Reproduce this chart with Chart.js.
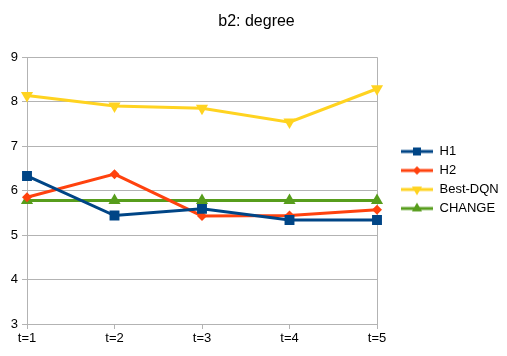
<!DOCTYPE html>
<html lang="en">
<head>
  <meta charset="UTF-8">
  <script src="https://cdn.jsdelivr.net/npm/chart.js"></script>
  <title>b2: degree</title>
  <style>
    html, body { margin: 0; padding: 0; background: #fff; }
    #wrap { width: 507px; height: 356px; }
  </style>
</head>
<body>
  <div id="wrap"><canvas id="grafico"></canvas></div>
<script>
  const rotulos = ['t=1', 't=2', 't=3', 't=4', 't=5'];
  const h1 = [6.33, 5.44, 5.59, 5.34, 5.34];
  const h2 = [5.85, 6.37, 5.43, 5.44, 5.57];
  const bestDqn = [8.14, 7.90, 7.85, 7.54, 8.29];
  const change = [5.78, 5.78, 5.78, 5.78, 5.78];
  const yTicks = [3, 4, 5, 6, 7, 8, 9];

  const grade = '#b3b3b3';

  // icone da legenda: linha + marcador
  function icone(cor, estilo, raio, rot) {
    const c = document.createElement('canvas');
    c.width = 32; c.height = 14;
    const ctx = c.getContext('2d');
    ctx.strokeStyle = cor;
    ctx.lineWidth = 3;
    ctx.beginPath();
    ctx.moveTo(0, 7); ctx.lineTo(32, 7);
    ctx.stroke();
    ctx.fillStyle = cor;
    Chart.helpers.drawPoint(ctx, { pointStyle: estilo, radius: raio, rotation: rot, borderWidth: 0 }, 16, 7);
    ctx.fill();
    return c;
  }

  function serie(nome, dados, cor, estilo, raio, rot) {
    return {
      label: nome,
      data: dados,
      borderColor: cor,
      backgroundColor: cor,
      borderWidth: 3,
      pointStyle: estilo,
      pointRadius: raio,
      pointRotation: rot,
      pointBorderWidth: 0,
      pointHoverRadius: raio,
      tension: 0,
      fill: false,
      icone: icone(cor, estilo, raio * 0.8, rot)
    };
  }

  const datasets = [
    serie('H1', h1, '#004586', 'rect', 7, 0),
    serie('H2', h2, '#ff420e', 'rectRot', 5, 0),
    serie('Best-DQN', bestDqn, '#ffd320', 'triangle', 7, 180),
    serie('CHANGE', change, '#579d1c', 'triangle', 7, 0)
  ];

  // largura fixa da legenda e pequeno deslocamento
  const ajusteLegenda = {
    id: 'ajusteLegenda',
    beforeLayout(chart) {
      const leg = chart.legend;
      if (leg && !leg._fitOriginal) {
        leg._fitOriginal = leg.fit;
        leg.fit = function () {
          this._fitOriginal();
          this.width = 130;
          this.height = 190;
        };
      }
    },
    afterLayout(chart) {
      const leg = chart.legend;
      if (leg) {
        leg.left += 18;
        leg.right += 18;
        leg.top += 2;
        leg.bottom += 2;
      }
    }
  };

  const config = {
    type: 'line',
    data: { labels: rotulos, datasets: datasets },
    plugins: [ajusteLegenda],
    options: {
      responsive: true,
      maintainAspectRatio: false,
      animation: false,
      layout: { padding: { left: 6, right: 0, top: 0, bottom: 0 } },
      plugins: {
        title: {
          display: true,
          text: 'b2: degree',
          color: '#000',
          font: { family: 'Liberation Sans', size: 16, weight: 'normal' },
          padding: { top: 12, bottom: 26 }
        },
        legend: {
          position: 'right',
          align: 'center',
          labels: {
            color: '#000',
            font: { family: 'Liberation Sans', size: 13 },
            usePointStyle: true,
            pointStyleWidth: 32,
            padding: 6,
            generateLabels: (chart) => chart.data.datasets.map((ds, i) => ({
              text: ds.label,
              pointStyle: ds.icone,
              fontColor: '#000',
              datasetIndex: i,
              lineWidth: 0
            }))
          }
        },
        tooltip: { enabled: false }
      },
      scales: {
        x: {
          offset: false,
          grid: {
            color: (c) => (c.index === 0 || c.index === rotulos.length - 1) ? grade : 'transparent',
            tickColor: grade,
            tickLength: 5,
            lineWidth: 1
          },
          border: { color: grade },
          ticks: {
            color: '#000',
            font: { family: 'Liberation Sans', size: 13 },
            maxRotation: 0,
            padding: 2
          },
          afterFit: (s) => { s.height = 32; }
        },
        y: {
          min: 3,
          max: 9,
          afterBuildTicks: (s) => { s.ticks = yTicks.map(v => ({ value: v })); },
          grid: { color: grade, tickColor: grade, tickLength: 5 },
          border: { color: grade },
          ticks: {
            color: '#000',
            font: { family: 'Liberation Sans', size: 13 },
            padding: 4
          },
          afterFit: (s) => { s.width = 21; }
        }
      }
    }
  };

  const grafico = new Chart(document.getElementById('grafico'), config);
</script>
</body>
</html>
